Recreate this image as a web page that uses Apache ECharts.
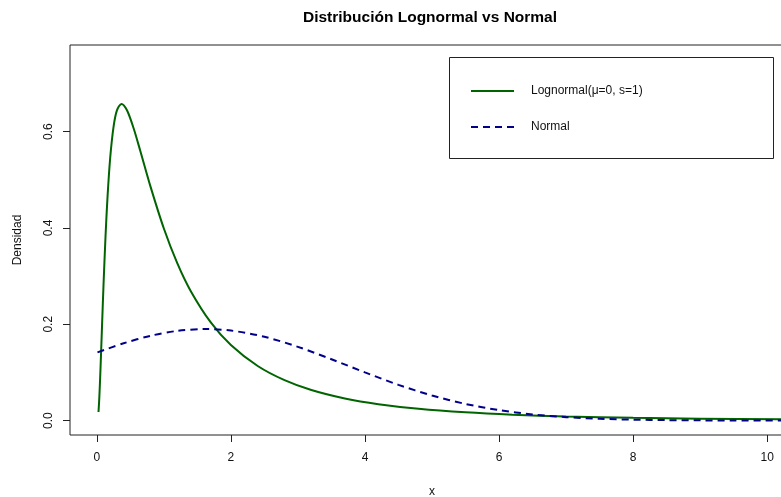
<!DOCTYPE html>
<html>
<head>
<meta charset="utf-8">
<script src="https://cdn.jsdelivr.net/npm/echarts@6/dist/echarts.min.js"></script>
<style>html,body{margin:0;padding:0;background:#fff;}#c{width:781px;height:497px;}</style>
</head>
<body>
<div id="c"></div>
<script>
// Values
const lognormX = [0.025,0.035,0.04,0.05,0.06,0.08,0.1,0.13,0.16,0.2,0.25,0.3,0.368,0.45,0.55,0.65,0.8,1.0,1.2,1.4,1.7,2.0,2.4,2.8,3.2,3.7,4.2,4.8,5.5,6.2,7.0,8.0,9.0,10.3];
const lognormY = [0.0177,0.0413,0.0561,0.0898,0.1270,0.2054,0.2816,0.3829,0.4651,0.5463,0.6105,0.6442,0.6577,0.6445,0.6066,0.5594,0.4864,0.3989,0.3270,0.2693,0.2039,0.1569,0.1133,0.0839,0.0634,0.0458,0.0339,0.0243,0.0170,0.0122,0.0086,0.0057,0.0040,0.0026];
const normalX = [0.01,0.4,0.8,1.2,1.62,2.0,2.5,3.0,3.5,4.0,4.5,5.0,5.5,6.0,6.5,7.0,7.5,8.0,8.5,9.0,9.5,10.3];
const normalY = [0.1416,0.1605,0.1760,0.1862,0.1900,0.1869,0.1740,0.1531,0.1273,0.1000,0.0742,0.0520,0.0345,0.0216,0.0128,0.0071,0.0038,0.0019,0.0009,0.0004,0.0002,0.0000];
const xTicks = [0,2,4,6,8,10];
const yTicks = [0,0.2,0.4,0.6];
const seriesNames = ['Lognormal(μ=0, s=1)','Normal'];

const font = 'Liberation Sans, Arial, Helvetica, sans-serif';
const chart = echarts.init(document.getElementById('c'), null, {renderer:'canvas'});
chart.setOption({
  animation:false,
  backgroundColor:'#fff',
  title:{
    text:'Distribución Lognormal vs Normal',
    left:425, top:5, textAlign:'center',
    textStyle:{fontFamily:font,fontSize:15.5,fontWeight:'bold',color:'#000'}
  },
  grid:{left:70, top:45, right:-13, bottom:62, outerBoundsMode:'none', containLabel:false,
        show:true, borderColor:'#222', borderWidth:1, backgroundColor:'transparent'},
  xAxis:{
    type:'value', min:-0.4, max:10.4,
    name:'x', nameLocation:'middle', nameGap:51,
    nameTextStyle:{fontFamily:font,fontSize:12,color:'#111'},
    axisLine:{show:false, onZero:false},
    splitLine:{show:false},
    axisTick:{show:true, length:7, lineStyle:{color:'#222'}, customValues:xTicks},
    axisLabel:{fontFamily:font,fontSize:12,color:'#111',margin:17, customValues:xTicks, formatter:v=>String(v)}
  },
  yAxis:{
    type:'value', min:-0.03, max:0.78,
    name:'Densidad', nameLocation:'middle', nameGap:46, nameRotate:90,
    nameTextStyle:{fontFamily:font,fontSize:12,color:'#111'},
    axisLine:{show:false, onZero:false},
    splitLine:{show:false},
    axisTick:{show:true, length:7, lineStyle:{color:'#222'}, customValues:yTicks},
    axisLabel:{fontFamily:font,fontSize:12,color:'#111',margin:15,rotate:90, customValues:yTicks, formatter:v=>v.toFixed(1)}
  },
  legend:{
    orient:'vertical', left:470, top:85, padding:0, itemWidth:43, itemHeight:14, itemGap:24,
    itemStyle:{opacity:0},
    textStyle:{fontFamily:font,fontSize:12,color:'#111',padding:[0,0,0,12]},
    data:seriesNames
  },
  graphic:[{type:'rect', shape:{x:449.5,y:57.5,width:324,height:101}, style:{fill:'none',stroke:'#222',lineWidth:1}, silent:true}],
  series:[
    {name:seriesNames[0], type:'line', showSymbol:false, symbol:'none', smooth:0.3,
     data:lognormX.map((x,i)=>[x,lognormY[i]]),
     lineStyle:{color:'#006400',width:2}, itemStyle:{color:'#006400'}},
    {name:seriesNames[1], type:'line', showSymbol:false, symbol:'none', smooth:0.3,
     data:normalX.map((x,i)=>[x,normalY[i]]),
     lineStyle:{color:'#00008B',width:2,type:[7,5]}, itemStyle:{color:'#00008B'}}
  ]
});
</script>
</body>
</html>
